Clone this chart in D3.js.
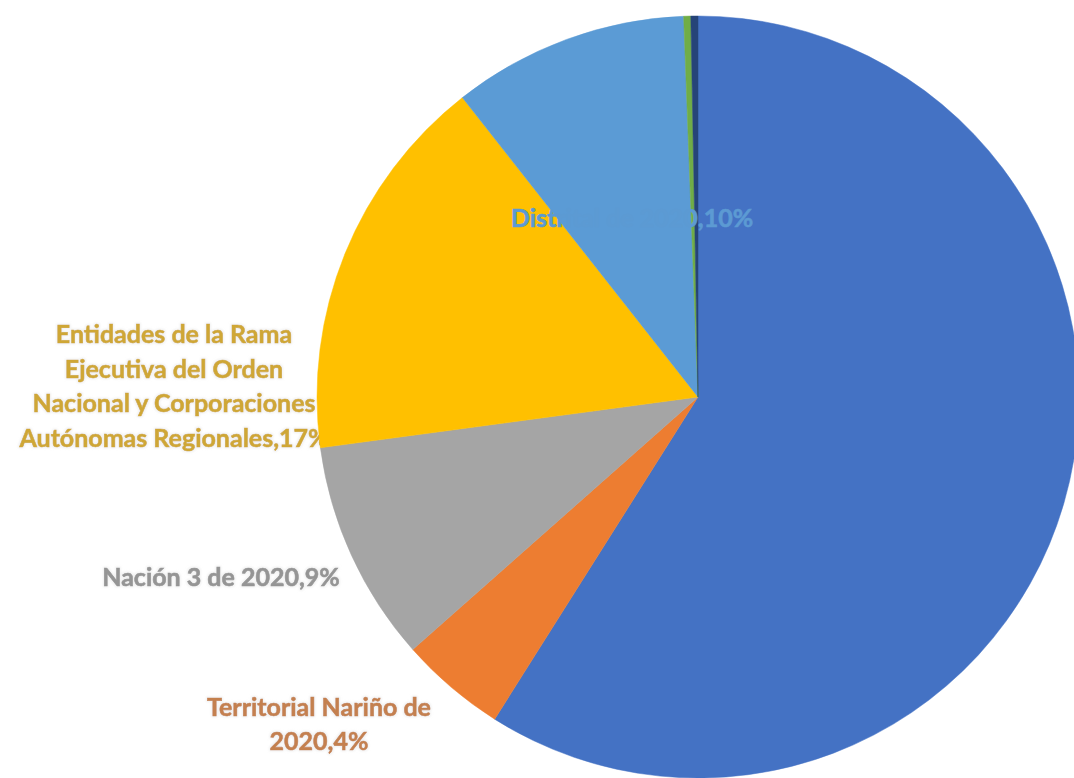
<!DOCTYPE html>
<html>
<head>
<meta charset="utf-8">
<script src="https://cdn.jsdelivr.net/npm/d3@7"></script>
<style>
  html, body { margin: 0; padding: 0; background: #fff; }
  svg { display: block; }
  .lbl { font-family: Lato, "Open Sans", sans-serif; font-weight: 700; font-size: 25px; }
</style>
</head>
<body>
<script>
// slices, clockwise from 12 o'clock
var categories = [
  "Municipal",
  "Territorial Nariño de 2020",
  "Nación 3 de 2020",
  "Entidades de la Rama Ejecutiva del Orden Nacional y Corporaciones Autónomas Regionales",
  "Distrital de 2020",
  "Otros",
  "Sin clasificar"
];
var shares = [58.9, 4.5, 9.4, 16.5, 10.0, 0.3, 0.3];
var pctLabels = ["59%", "4%", "9%", "17%", "10%", "0%", "0%"];
var colors = ["#4472c4", "#ed7d31", "#a5a5a5", "#ffc000", "#5b9bd5", "#70ad47", "#264478"];
var textColors = ["#4472c4", "#c4804f", "#959595", "#cfa735", "#5c9ad3", "#70ad47", "#264478"];

// label text lines (only the ones visible in the chart)
var labelLines = {
  1: ["Territorial Nariño de", "2020,4%"],
  2: ["Nación 3 de 2020,9%"],
  3: ["Entidades de la Rama", "Ejecutiva del Orden", "Nacional y Corporaciones", "Autónomas Regionales,17%"],
  4: ["Distrital de 2020,10%"]
};

var W = 1074, H = 778;
var cx = 698, cy = 397, R = 381;

// label centre offsets from the pie centre
var labelPos = {
  1: { dx: -379, dy: 327, under: true, glow: true },
  2: { dx: -477, dy: 180, under: true, glow: true },
  3: { dx: -524, dy: -11, under: true, glow: true },
  4: { dx: -66, dy: -179, under: false, glow: false }
};
var lineH = 34.5;

var svg = d3.select("body").append("svg")
  .attr("width", W).attr("height", H);

var defs = svg.append("defs");
var glow = defs.append("filter").attr("id", "glow")
  .attr("x", "-10%").attr("y", "-30%").attr("width", "120%").attr("height", "160%");
glow.append("feMorphology").attr("in", "SourceAlpha").attr("operator", "dilate").attr("radius", 1).attr("result", "d");
glow.append("feGaussianBlur").attr("in", "d").attr("stdDeviation", 1).attr("result", "b");
glow.append("feFlood").attr("flood-color", "#e6e6e6").attr("flood-opacity", 0.6);
glow.append("feComposite").attr("in2", "b").attr("operator", "in").attr("result", "g");
var mg = glow.append("feMerge");
mg.append("feMergeNode").attr("in", "g");
mg.append("feMergeNode").attr("in", "SourceGraphic");

var g = svg.append("g").attr("transform", "translate(" + cx + "," + cy + ")");

var pie = d3.pie().sort(null).value(function (d) { return d; });
var arcs = pie(shares);
var arc = d3.arc().innerRadius(0).outerRadius(R);

function drawLabels(under) {
  Object.keys(labelLines).forEach(function (k) {
    var i = +k, p = labelPos[i];
    if (p.under !== under) return;
    var lines = labelLines[i];
    var t = g.append("text")
      .attr("class", "lbl")
      .attr("text-anchor", "middle")
      .attr("fill", textColors[i])
      .attr("stroke", textColors[i])
      .attr("stroke-width", 0.6);
    if (p.glow) t.attr("filter", "url(#glow)");
    lines.forEach(function (s, j) {
      t.append("tspan")
        .attr("x", p.dx)
        .attr("y", p.dy + (j - (lines.length - 1) / 2) * lineH)
        .attr("dy", "0.35em")
        .text(s);
    });
  });
}

drawLabels(true);

g.selectAll("path.slice")
  .data(arcs)
  .enter().append("path")
  .attr("class", "slice")
  .attr("d", arc)
  .attr("fill", function (d, i) { return colors[i]; })
  .attr("stroke", function (d, i) { return colors[i]; })
  .attr("stroke-width", 0.5);

drawLabels(false);
</script>
</body>
</html>
